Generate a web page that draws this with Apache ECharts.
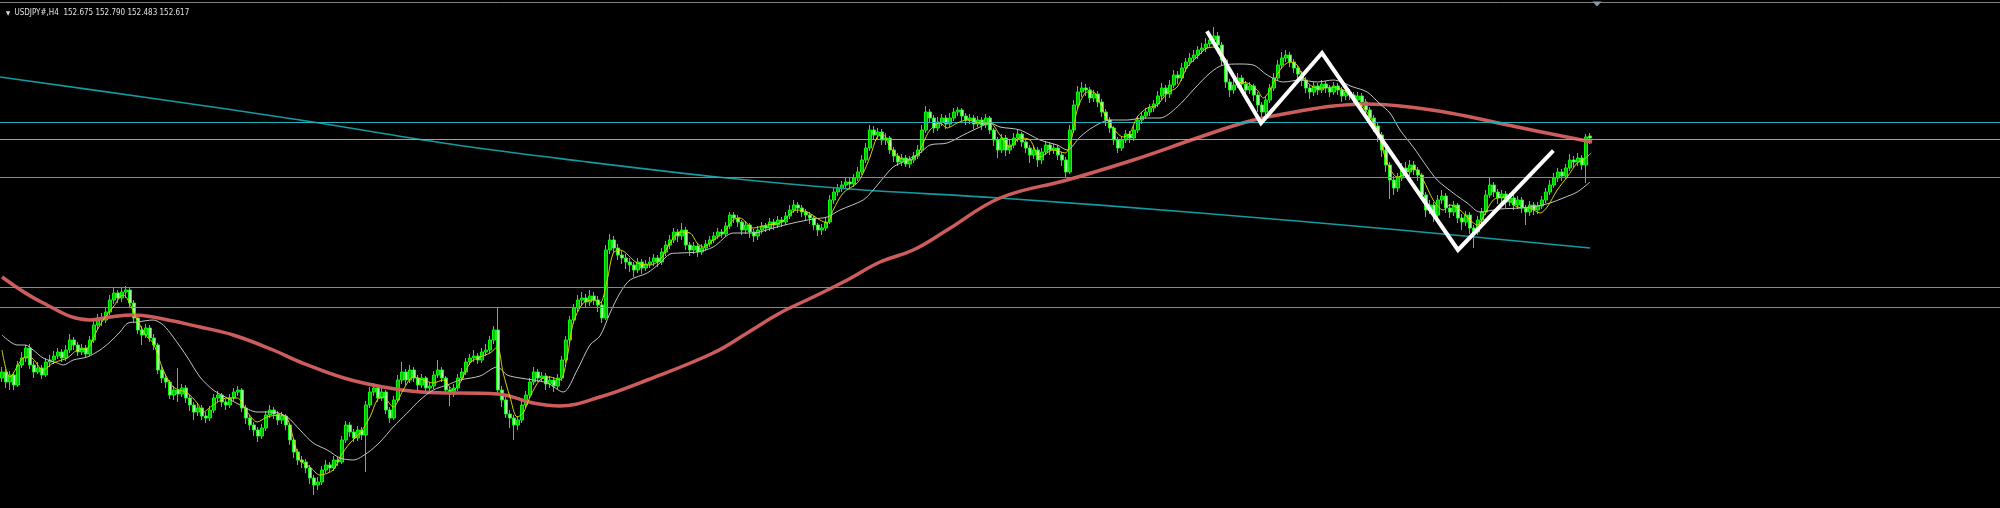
<!DOCTYPE html>
<html>
<head>
<meta charset="utf-8">
<script src="https://cdn.jsdelivr.net/npm/echarts@6/dist/echarts.min.js"></script>
<style>
html,body{margin:0;padding:0;background:#000;}
#chart{width:2000px;height:508px;}
</style>
</head>
<body>
<div id="chart"></div>
<script>
// Header text
const symbolLabel = 'USDJPY#,H4';
const lastBar = ['152.675', '152.790', '152.483', '152.617'];

// H4 candles: [open, close, low, high]
const candles = [
[150.22,150.28,150.18,150.33],[150.28,150.18,150.12,150.31],[150.18,150.25,150.10,150.29],[150.25,150.15,150.10,150.28],[150.15,150.35,150.13,150.39],[150.35,150.42,150.32,150.48],
[150.42,150.52,150.38,150.55],[150.52,150.35,150.31,150.56],[150.35,150.28,150.22,150.39],[150.28,150.32,150.26,150.38],[150.32,150.25,150.21,150.35],[150.25,150.38,150.23,150.42],
[150.38,150.40,150.33,150.45],[150.40,150.44,150.36,150.49],[150.44,150.48,150.41,150.52],[150.48,150.42,150.38,150.51],[150.42,150.50,150.39,150.55],[150.50,150.60,150.47,150.66],
[150.60,150.55,150.50,150.63],[150.55,150.48,150.44,150.58],[150.48,150.52,150.45,150.56],[150.52,150.46,150.42,150.55],[150.46,150.60,150.44,150.64],[150.60,150.75,150.57,150.79],
[150.75,150.82,150.71,150.86],[150.82,150.80,150.74,150.87],[150.80,150.88,150.77,150.92],[150.88,151.00,150.85,151.05],[151.00,151.07,150.96,151.12],[151.07,151.02,150.97,151.10],
[151.02,151.08,150.98,151.13],[151.08,151.10,151.02,151.14],[151.10,150.97,150.93,151.12],[150.97,150.82,150.77,151.00],[150.82,150.70,150.66,150.85],[150.70,150.65,150.55,150.74],
[150.65,150.72,150.62,150.76],[150.72,150.62,150.58,150.75],[150.62,150.55,150.50,150.66],[150.55,150.30,150.26,150.57],[150.30,150.22,150.17,150.33],[150.22,150.18,150.12,150.26],
[150.18,150.05,150.01,150.20],[150.05,150.10,150.00,150.14],[150.10,150.06,149.98,150.32],[150.06,150.12,150.03,150.16],[150.12,150.02,149.97,150.15],[150.02,149.95,149.89,150.05],
[149.95,149.88,149.80,149.98],[149.88,149.92,149.84,149.97],[149.92,149.84,149.80,149.95],[149.84,149.82,149.77,149.88],[149.82,149.90,149.79,149.94],[149.90,150.02,149.87,150.06],
[150.02,150.05,149.98,150.09],[150.05,149.98,149.93,150.07],[149.98,149.95,149.90,150.01],[149.95,150.02,149.92,150.06],[150.02,150.08,149.99,150.12],[150.08,150.10,150.04,150.14],
[150.10,149.92,149.88,150.12],[149.92,149.82,149.76,149.95],[149.82,149.75,149.70,149.85],[149.75,149.70,149.64,149.78],[149.70,149.64,149.58,149.73],[149.64,149.72,149.61,149.76],
[149.72,149.85,149.69,149.89],[149.85,149.90,149.82,149.95],[149.90,149.86,149.81,149.93],[149.86,149.80,149.75,149.89],[149.80,149.84,149.76,149.88],[149.84,149.75,149.70,149.86],
[149.75,149.60,149.55,149.77],[149.60,149.48,149.42,149.62],[149.48,149.40,149.35,149.51],[149.40,149.38,149.32,149.44],[149.38,149.32,149.27,149.41],[149.32,149.22,149.16,149.35],
[149.22,149.15,149.05,149.25],[149.15,149.18,149.10,149.23],[149.18,149.30,149.15,149.34],[149.30,149.35,149.27,149.40],[149.35,149.32,149.28,149.38],[149.32,149.40,149.29,149.44],
[149.40,149.38,149.34,149.43],[149.38,149.60,149.36,149.64],[149.60,149.75,149.57,149.79],[149.75,149.68,149.63,149.78],[149.68,149.62,149.58,149.71],[149.62,149.70,149.59,149.74],
[149.70,149.65,149.60,149.73],[149.65,149.95,149.28,149.99],[149.95,150.08,149.92,150.13],[150.08,150.12,150.04,150.17],[150.12,150.02,149.98,150.15],[150.02,150.08,149.99,150.12],
[150.08,149.90,149.86,150.10],[149.90,149.82,149.77,149.93],[149.82,150.00,149.80,150.04],[150.00,150.20,149.98,150.25],[150.20,150.28,150.16,150.38],[150.28,150.20,150.15,150.31],
[150.20,150.30,150.17,150.35],[150.30,150.22,150.18,150.33],[150.22,150.15,150.10,150.25],[150.15,150.22,150.12,150.26],[150.22,150.12,150.08,150.24],[150.12,150.14,150.08,150.18],
[150.14,150.25,150.11,150.29],[150.25,150.30,150.22,150.40],[150.30,150.22,150.18,150.33],[150.22,150.10,150.06,150.24],[150.10,150.06,149.94,150.13],[150.06,150.12,150.03,150.16],
[150.12,150.22,150.09,150.26],[150.22,150.28,150.19,150.32],[150.28,150.38,150.25,150.42],[150.38,150.42,150.35,150.46],[150.42,150.44,150.38,150.50],[150.44,150.40,150.36,150.47],
[150.40,150.48,150.37,150.52],[150.48,150.50,150.44,150.56],[150.50,150.60,150.47,150.64],[150.60,150.70,150.56,150.74],[150.70,150.10,150.05,150.93],[150.10,150.00,149.93,150.14],
[150.00,149.86,149.82,150.03],[149.86,149.82,149.72,149.90],[149.82,149.75,149.60,149.85],[149.75,149.80,149.70,149.84],[149.80,149.95,149.77,149.99],[149.95,150.05,149.92,150.09],
[150.05,150.18,150.02,150.22],[150.18,150.28,150.15,150.33],[150.28,150.22,150.18,150.31],[150.22,150.24,150.18,150.28],[150.24,150.16,150.10,150.27],[150.16,150.20,150.12,150.24],
[150.20,150.14,150.08,150.23],[150.14,150.22,150.11,150.26],[150.22,150.40,150.19,150.44],[150.40,150.60,150.37,150.64],[150.60,150.80,150.57,150.84],[150.80,150.92,150.76,150.96],
[150.92,151.00,150.88,151.05],[151.00,151.02,150.95,151.08],[151.02,150.98,150.92,151.06],[150.98,151.04,150.94,151.10],[151.04,151.00,150.95,151.08],[151.00,150.95,150.88,151.04],
[150.95,150.82,150.77,150.98],[150.82,151.50,150.80,151.55],[151.50,151.60,151.46,151.66],[151.60,151.52,151.47,151.64],[151.52,151.45,151.40,151.56],[151.45,151.42,151.36,151.49],
[151.42,151.38,151.31,151.46],[151.38,151.35,151.28,151.42],[151.35,151.30,151.23,151.38],[151.30,151.38,151.27,151.42],[151.38,151.32,151.26,151.41],[151.32,151.36,151.29,151.40],
[151.36,151.38,151.32,151.43],[151.38,151.42,151.34,151.46],[151.42,151.38,151.33,151.45],[151.38,151.48,151.35,151.52],[151.48,151.55,151.44,151.59],[151.55,151.60,151.51,151.65],
[151.60,151.68,151.57,151.72],[151.68,151.64,151.58,151.71],[151.64,151.70,151.60,151.77],[151.70,151.55,151.50,151.73],[151.55,151.50,151.44,151.58],[151.50,151.54,151.46,151.58],
[151.54,151.48,151.43,151.57],[151.48,151.52,151.45,151.56],[151.52,151.56,151.49,151.60],[151.56,151.60,151.53,151.64],[151.60,151.64,151.57,151.68],[151.64,151.68,151.61,151.72],
[151.68,151.66,151.62,151.71],[151.66,151.74,151.63,151.78],[151.74,151.85,151.71,151.88],[151.85,151.82,151.77,151.88],[151.82,151.78,151.73,151.85],[151.78,151.70,151.65,151.80],
[151.70,151.75,151.66,151.79],[151.75,151.68,151.62,151.77],[151.68,151.64,151.58,151.71],[151.64,151.70,151.60,151.74],[151.70,151.74,151.66,151.78],[151.74,151.72,151.68,151.77],
[151.72,151.78,151.69,151.82],[151.78,151.75,151.70,151.81],[151.75,151.80,151.72,151.84],[151.80,151.78,151.73,151.83],[151.78,151.84,151.75,151.88],[151.84,151.90,151.81,151.95],
[151.90,151.95,151.87,152.00],[151.95,151.92,151.87,151.98],[151.92,151.88,151.83,151.95],[151.88,151.85,151.80,151.91],[151.85,151.82,151.76,151.88],[151.82,151.75,151.70,151.84],
[151.75,151.70,151.64,151.77],[151.70,151.72,151.65,151.76],[151.72,151.78,151.69,151.82],[151.78,152.00,151.76,152.05],[152.00,152.08,151.96,152.12],[152.08,152.12,152.04,152.16],
[152.12,152.15,152.08,152.19],[152.15,152.18,152.11,152.22],[152.18,152.16,152.11,152.22],[152.16,152.22,152.13,152.26],[152.22,152.28,152.19,152.33],[152.28,152.40,152.25,152.45],
[152.40,152.52,152.37,152.57],[152.52,152.70,152.49,152.75],[152.70,152.65,152.60,152.74],[152.65,152.68,152.61,152.72],[152.68,152.60,152.55,152.71],[152.60,152.62,152.55,152.67],
[152.62,152.50,152.46,152.64],[152.50,152.44,152.38,152.53],[152.44,152.38,152.34,152.47],[152.38,152.42,152.34,152.46],[152.42,152.36,152.33,152.45],[152.36,152.40,152.32,152.44],
[152.40,152.44,152.37,152.48],[152.44,152.50,152.41,152.55],[152.50,152.70,152.47,152.75],[152.70,152.88,152.67,152.94],[152.88,152.82,152.77,152.91],[152.82,152.72,152.67,152.85],
[152.72,152.78,152.69,152.83],[152.78,152.82,152.74,152.86],[152.82,152.76,152.71,152.85],[152.76,152.82,152.73,152.87],[152.82,152.88,152.79,152.92],[152.88,152.90,152.84,152.93],
[152.90,152.84,152.79,152.92],[152.84,152.80,152.75,152.87],[152.80,152.82,152.76,152.86],[152.82,152.76,152.71,152.85],[152.76,152.80,152.73,152.84],[152.80,152.75,152.70,152.83],
[152.75,152.82,152.72,152.86],[152.82,152.70,152.66,152.84],[152.70,152.60,152.54,152.72],[152.60,152.50,152.42,152.63],[152.50,152.62,152.47,152.66],[152.62,152.50,152.44,152.65],
[152.50,152.55,152.46,152.60],[152.55,152.62,152.52,152.67],[152.62,152.66,152.58,152.70],[152.66,152.58,152.53,152.68],[152.58,152.52,152.47,152.61],[152.52,152.45,152.37,152.55],
[152.45,152.50,152.41,152.54],[152.50,152.40,152.33,152.53],[152.40,152.48,152.36,152.52],[152.48,152.55,152.45,152.59],[152.55,152.50,152.45,152.58],[152.50,152.52,152.46,152.56],
[152.52,152.45,152.40,152.55],[152.45,152.40,152.34,152.48],[152.40,152.28,152.23,152.43],[152.28,152.70,152.26,152.75],[152.70,152.95,152.67,153.00],[152.95,153.08,152.91,153.14],
[153.08,153.12,153.03,153.18],[153.12,153.10,153.04,153.16],[153.10,153.02,152.97,153.13],[153.02,153.06,152.98,153.10],[153.06,152.98,152.93,153.09],[152.98,152.88,152.83,153.01],
[152.88,152.80,152.74,152.91],[152.80,152.72,152.67,152.83],[152.72,152.60,152.55,152.74],[152.60,152.52,152.47,152.63],[152.52,152.60,152.49,152.64],[152.60,152.66,152.57,152.70],
[152.66,152.62,152.57,152.69],[152.62,152.70,152.59,152.74],[152.70,152.80,152.67,152.84],[152.80,152.84,152.76,152.88],[152.84,152.88,152.81,152.92],[152.88,152.92,152.84,152.96],
[152.92,152.96,152.88,153.00],[152.96,153.04,152.93,153.09],[153.04,153.12,153.00,153.17],[153.12,153.06,152.98,153.15],[153.06,153.15,153.02,153.20],[153.15,153.25,153.12,153.30],
[153.25,153.22,153.16,153.29],[153.22,153.32,153.19,153.37],[153.32,153.38,153.28,153.42],[153.38,153.42,153.34,153.47],[153.42,153.45,153.38,153.50],[153.45,153.50,153.41,153.54],
[153.50,153.52,153.46,153.57],[153.52,153.56,153.48,153.62],[153.56,153.60,153.52,153.66],[153.60,153.64,153.56,153.73],[153.64,153.55,153.50,153.68],[153.55,153.40,153.35,153.58],
[153.40,153.18,153.12,153.42],[153.18,153.10,153.03,153.21],[153.10,153.15,153.06,153.20],[153.15,153.22,153.12,153.27],[153.22,153.16,153.11,153.25],[153.16,153.10,153.04,153.19],
[153.10,153.14,153.06,153.18],[153.14,153.05,152.99,153.16],[153.05,152.95,152.88,153.08],[152.95,152.88,152.83,152.98],[152.88,153.00,152.85,153.04],[153.00,153.12,152.97,153.16],
[153.12,153.22,153.09,153.27],[153.22,153.35,153.19,153.40],[153.35,153.42,153.31,153.48],[153.42,153.45,153.38,153.50],[153.45,153.38,153.33,153.48],[153.38,153.32,153.27,153.41],
[153.32,153.26,153.20,153.35],[153.26,153.20,153.14,153.29],[153.20,153.12,153.07,153.23],[153.12,153.08,153.01,153.15],[153.08,153.14,153.04,153.18],[153.14,153.10,153.05,153.17],
[153.10,153.16,153.07,153.20],[153.16,153.12,153.07,153.19],[153.12,153.08,153.03,153.15],[153.08,153.14,153.05,153.18],[153.14,153.10,153.05,153.17],[153.10,153.04,152.98,153.13],
[153.04,153.08,153.00,153.12],[153.08,153.05,153.00,153.11],[153.05,153.00,152.94,153.08],[153.00,153.04,152.96,153.08],[153.04,152.98,152.93,153.07],[152.98,152.90,152.84,153.01],
[152.90,152.82,152.76,152.93],[152.82,152.74,152.68,152.85],[152.74,152.65,152.58,152.77],[152.65,152.50,152.43,152.68],[152.50,152.35,152.28,152.53],[152.35,152.20,152.01,152.38],
[152.20,152.12,152.05,152.24],[152.12,152.22,152.08,152.27],[152.22,152.32,152.19,152.37],[152.32,152.28,152.22,152.38],[152.28,152.35,152.24,152.40],[152.35,152.30,152.25,152.39],
[152.30,152.25,152.19,152.33],[152.25,152.05,152.00,152.27],[152.05,151.90,151.83,152.08],[151.90,151.95,151.86,152.00],[151.95,151.85,151.78,151.98],[151.85,152.00,151.82,152.05],
[152.00,152.04,151.96,152.10],[152.04,151.92,151.87,152.07],[151.92,151.88,151.82,151.96],[151.88,151.95,151.84,151.99],[151.95,151.82,151.77,151.97],[151.82,151.78,151.70,151.86],
[151.78,151.85,151.74,151.89],[151.85,151.72,151.66,151.88],[151.72,151.68,151.52,151.75],[151.68,151.80,151.65,151.84],[151.80,151.88,151.77,151.92],[151.88,152.05,151.85,152.10],
[152.05,152.15,152.02,152.22],[152.15,152.08,152.03,152.18],[152.08,152.02,151.96,152.11],[152.02,152.06,151.98,152.10],[152.06,151.98,151.92,152.09],[151.98,152.02,151.94,152.07],
[152.02,151.95,151.90,152.05],[151.95,152.00,151.91,152.04],[152.00,151.92,151.87,152.03],[151.92,151.88,151.75,151.95],[151.88,151.95,151.84,151.99],[151.95,151.90,151.85,151.98],
[151.90,151.94,151.86,151.98],[151.94,152.00,151.91,152.04],[152.00,152.08,151.97,152.12],[152.08,152.15,152.05,152.20],[152.15,152.22,152.12,152.27],[152.22,152.28,152.18,152.32],
[152.28,152.24,152.19,152.31],[152.24,152.32,152.21,152.36],[152.32,152.40,152.29,152.46],[152.40,152.38,152.33,152.44],[152.38,152.42,152.34,152.47],[152.42,152.35,152.30,152.45],
[152.35,152.63,152.17,152.66],[152.64,152.62,152.56,152.67]
];

// Fast MA (yellow) read at bar positions: [bar index, price]
const fastMA = [
[0,150.50],[2,150.23],[5.8,150.43],[7.5,150.42],[10.3,150.30],[12.8,150.37],[16.3,150.42],[18.8,150.50],[21.5,150.52],[23.8,150.70],
[25.3,150.80],[27.8,150.93],[30.3,151.05],[31.5,151.00],[33.8,150.80],[36.3,150.63],[37.8,150.57],[40.3,150.30],[42.8,150.13],[46.3,150.07],
[48.8,149.97],[50.3,149.88],[52.8,149.95],[56.3,150.02],[58.8,150.02],[61.3,149.88],[63.8,149.78],[66.3,149.83],[69.5,149.85],[71.3,149.82],
[74.5,149.40],[77,149.33],[79.5,149.25],[82.8,149.30],[84.5,149.43],[87,149.57],[89.5,149.67],[92,149.83],[93.8,150.00],[95.3,150.03],
[97.8,149.93],[100.3,150.10],[102.8,150.23],[105.3,150.20],[107.8,150.17],[110.3,150.20],[112.8,150.10],[114.5,150.17],[117,150.37],[119.5,150.43],
[122,150.47],[123.8,150.53],[125.3,150.27],[127,150.03],[128.8,149.83],[130.3,149.87],[132,150.03],[134.5,150.20],[137,150.23],[139.5,150.20],
[141.3,150.43],[142.8,150.77],[145.3,150.97],[147.8,151.00],[149.5,150.97],[151.3,151.20],[152.8,151.47],[154.5,151.50],[158.8,151.37],[162,151.35],
[164.5,151.40],[167,151.57],[169.5,151.68],[172,151.67],[173.8,151.57],[175.3,151.53],[177.8,151.60],[180.3,151.67],[182.8,151.80],[184.5,151.82],
[187.8,151.72],[191.3,151.75],[194.5,151.77],[198.8,151.90],[201.3,151.88],[204.5,151.80],[206.3,151.77],[207.8,151.90],[210.3,152.07],[213.8,152.17],
[215.3,152.27],[217,152.43],[218.8,152.63],[220.3,152.65],[222,152.53],[224.5,152.42],[227,152.40],[228.8,152.45],[230.3,152.57],[232,152.70],
[234.5,152.77],[236.3,152.72],[238.8,152.77],[241.3,152.80],[244.5,152.77],[247,152.77],[249.5,152.65],[252,152.53],[254.5,152.62],[257,152.60],
[259.5,152.43],[262.8,152.50],[265.8,152.47],[267.5,152.63],[268.8,152.90],[271.3,153.08],[272.8,153.08],[274.5,152.97],[276.3,152.80],[278.8,152.67],
[280.3,152.63],[282,152.67],[283.8,152.83],[286.3,152.92],[288.8,152.95],[291.3,153.07],[293.8,153.13],[296.3,153.33],[298.8,153.43],[301.3,153.52],
[303.8,153.53],[305.3,153.45],[307,153.30],[308.8,153.18],[311.3,153.17],[313.8,153.10],[315.3,153.02],[317,153.10],[319.5,153.30],[322,153.38],
[323.8,153.35],[325.3,153.23],[327.8,153.13],[330.3,153.12],[332.8,153.13],[335.3,153.10],[337.8,153.03],[340.3,152.93],[342,152.83],[343.8,152.70],
[346.3,152.37],[348.8,152.23],[350.3,152.25],[352.8,152.32],[355.3,152.20],[357.8,152.00],[360.3,151.90],[362,151.95],[364.5,151.90],[367,151.80],
[368.8,151.75],[370.3,151.83],[372.8,152.00],[375.3,152.03],[378.8,151.93],[382,151.92],[384.5,151.87],[386.3,151.93],[388.8,152.10],[391.3,152.23],
[393.8,152.37],[395.3,152.40],[397.3,152.47]
];

// Slow MA (white)
const slowMA = [
[0,150.65],[3.8,150.55],[5.8,150.55],[7.8,150.50],[10.3,150.42],[13.8,150.37],[15.3,150.35],[17.8,150.40],[21.3,150.43],[24.5,150.50],
[27,150.58],[29.5,150.68],[31.5,150.77],[33.8,150.78],[37.8,150.80],[40.3,150.75],[42.8,150.63],[46.3,150.43],[49.5,150.23],[52.8,150.10],
[56.3,150.02],[59.5,149.95],[63.8,149.88],[67.8,149.88],[71.3,149.83],[74.5,149.70],[77.8,149.57],[81.3,149.50],[84.5,149.42],[87.8,149.40],
[91.3,149.47],[94.5,149.58],[97.8,149.73],[101.3,149.87],[104.5,150.00],[107.8,150.10],[111.3,150.15],[114.5,150.20],[119.5,150.24],[123.8,150.33],
[126.3,150.25],[129.5,150.22],[132.8,150.20],[136.3,150.17],[140.3,150.08],[143.8,150.30],[147,150.55],[149.5,150.64],[152,150.87],[154.5,151.07],
[157,151.20],[161.3,151.27],[164.5,151.37],[167,151.46],[169.5,151.47],[173.8,151.48],[177.8,151.53],[182.8,151.67],[187.8,151.67],[192.8,151.72],
[197.8,151.77],[202.8,151.81],[206.3,151.83],[209.5,151.90],[215.3,152.00],[217.8,152.10],[220.3,152.22],[222.8,152.33],[226.3,152.40],[229.5,152.47],
[232,152.55],[236.3,152.57],[240.3,152.65],[244.5,152.73],[247,152.77],[249.5,152.73],[254.5,152.70],[259.5,152.60],[263.8,152.55],[266.3,152.50],
[269.5,152.63],[272.8,152.73],[277,152.80],[281.3,152.80],[285.3,152.82],[289.5,152.82],[293.8,152.93],[297.8,153.10],[302,153.27],[305.3,153.35],
[309.5,153.36],[312.8,153.35],[316.3,153.25],[320.3,153.18],[324.5,153.20],[328.8,153.18],[332.8,153.20],[337.8,153.13],[341.3,153.08],[344.5,152.96],
[347,152.87],[349.5,152.70],[352.8,152.53],[356.3,152.33],[358.8,152.20],[362.8,152.07],[366.3,151.97],[369.5,151.88],[374.5,151.91],[379.5,151.92],
[383.8,151.94],[387,151.97],[390.3,152.02],[393.8,152.08],[397,152.18]
];

// 200-period MA (red)
const ma200 = [
[0,151.23],[10.3,150.97],[22,150.80],[27,150.83],[32.8,150.85],[37.8,150.83],[49.5,150.73],[57.8,150.65],[67.8,150.50],[74.5,150.38],
[85.5,150.22],[95.3,150.13],[104.8,150.08],[124,150.06],[132.8,149.97],[139.5,149.94],[149.5,150.03],[161.3,150.20],[177.8,150.47],[186.3,150.67],
[194.5,150.87],[202.8,151.03],[211.3,151.20],[219.5,151.38],[227.8,151.50],[236.3,151.70],[249.5,152.02],[266.3,152.20],[282.8,152.40],[299.5,152.63],
[312,152.79],[324.5,152.89],[332.8,152.94],[341.3,152.96],[349.5,152.94],[362,152.87],[378.8,152.73],[397.5,152.58]
];

// Very long MA (teal)
const longMA = [
[-0.5,153.23],[37,153.02],[74.5,152.80],[112,152.56],[144.5,152.39],[181.3,152.22],[212,152.11],[249.5,152.02],[299.5,151.87],[349.5,151.70],[397,151.52]
];

// Hand-drawn zig-zag (white)
const zigzag = [
[301.5,153.67],[314.75,152.77],[330,153.47],[364,151.50],[387.5,152.48]
];

// Horizontal levels
const cyanLevels = [152.78, 152.23, 151.13, 150.93];
const grayLevels = [152.61];

const slotCount = 500; // bars + right chart shift
const categories = [];
for (let i = 0; i < slotCount; i++) categories.push(String(i));

const chart = echarts.init(document.getElementById('chart'), null, {renderer: 'canvas'});

const markLines = cyanLevels.map(v => ({yAxis: v, lineStyle: {color: '#22b4bc', width: 1, type: 'solid'}}))
  .concat(grayLevels.map(v => ({yAxis: v, lineStyle: {color: '#a0a0a0', width: 1, type: 'solid'}})));

const option = {
  backgroundColor: '#000000',
  animation: false,
  title: {
    text: '{t|▼} ' + symbolLabel + '  ' + lastBar.join(' '),
    left: 1,
    top: 4,
    textStyle: {
      color: '#e0e0e0',
      fontSize: 8,
      fontWeight: 'normal',
      fontFamily: '"Liberation Sans Narrow","DejaVu Sans Condensed","Liberation Sans",sans-serif',
      rich: { t: { fontSize: 6, color: '#e0e0e0', padding: [0, 2, 0, 0] } }
    }
  },
  grid: {left: 0, right: 0, top: 2, bottom: 0, containLabel: false},
  xAxis: [
    {type: 'category', data: categories, boundaryGap: true, position: 'top',
     axisLine: {show: true, lineStyle: {color: '#808080', width: 1}},
     axisTick: {show: false}, axisLabel: {show: false}, splitLine: {show: false}},
    {type: 'value', min: -0.5, max: slotCount - 0.5, show: false, splitLine: {show: false}}
  ],
  yAxis: {type: 'value', min: 148.92, max: 153.98, show: false, splitLine: {show: false}, scale: true},
  series: [
    {
      type: 'candlestick', xAxisIndex: 0, data: candles, barWidth: 3, z: 1,
      itemStyle: {color: '#00b400', color0: '#b4ffb4', borderColor: '#00ff00', borderColor0: '#00ff00', borderWidth: 1}
    },
    {
      type: 'line', xAxisIndex: 1, data: longMA, smooth: 0.4, symbol: 'none', z: 2,
      lineStyle: {color: '#129ba2', width: 1.6},
      markLine: {silent: true, symbol: 'none', label: {show: false}, data: markLines}
    },
    {
      type: 'line', xAxisIndex: 1, data: ma200, smooth: 0.4, symbol: 'none', z: 3,
      lineStyle: {color: '#cd5c5c', width: 3.5}
    },
    {
      type: 'line', xAxisIndex: 1, data: slowMA, smooth: 0.3, symbol: 'none', z: 4,
      lineStyle: {color: '#c4c4c4', width: 1}
    },
    {
      type: 'line', xAxisIndex: 1, data: fastMA, smooth: 0.3, symbol: 'none', z: 5,
      lineStyle: {color: '#d4d400', width: 1}
    },
    {
      type: 'line', xAxisIndex: 1, data: zigzag, smooth: false, symbol: 'none', z: 6,
      lineStyle: {color: '#ffffff', width: 4, cap: 'square', join: 'miter'},
      markPoint: {
        silent: true,
        data: [{coord: [398.75, 153.98], symbol: 'triangle', symbolRotate: 180, symbolSize: [9, 5], symbolOffset: [0, 2],
                itemStyle: {color: '#8a9ab0'}, label: {show: false}}]
      }
    }
  ]
};
chart.setOption(option);
</script>
</body>
</html>
